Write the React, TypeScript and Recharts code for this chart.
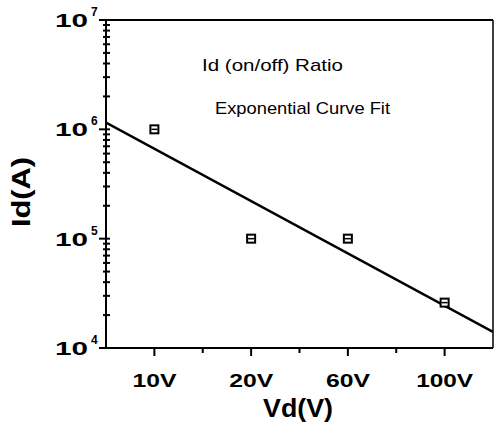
import { ComposedChart, Line, Scatter, XAxis, YAxis, ReferenceLine } from 'recharts'

// data
const categories = ['10V', '20V', '60V', '100V']
const categoryPos = [1, 2, 3, 4]
const ratioValues = [1e6, 1e5, 1e5, 2.6e4]
const fitPos = [0.5, 4.5]
const fitValues = [1.15e6, 1.4e4]
const yMajor = [1e4, 1e5, 1e6, 1e7]
const yMinorSteps = [2, 3, 4, 5, 6, 7, 8, 9]
const xMinor = [1.5, 2.5, 3.5]

const points = categoryPos.map((x, i) => ({ x, y: ratioValues[i] }))
const fit = fitPos.map((x, i) => ({ x, y: fitValues[i] }))
const yTicks = [...yMajor, ...yMajor.slice(0, 3).flatMap(d => yMinorSteps.map(s => s * d))].sort((a, b) => a - b)
const xTicks = [...categoryPos, ...xMinor].sort((a, b) => a - b)

const font = '"Liberation Sans", Arial, sans-serif'

function YTick(props: any) {
  const { x, y, payload } = props
  const v = payload.value
  const exp = Math.round(Math.log10(v))
  const major = Math.abs(v - Math.pow(10, exp)) < 1e-6 * v
  if (!major) {
    return <line x1={x - 3} x2={x + 4} y1={y} y2={y} stroke="#000" strokeWidth={2} />
  }
  return (
    <g>
      <line x1={x - 7} x2={x + 4} y1={y} y2={y} stroke="#000" strokeWidth={2} />
      <text x={55} y={y + 7} fontSize={18} fontWeight="bold" fontFamily={font} fill="#000"
        textLength={33} lengthAdjust="spacingAndGlyphs">10</text>
      <text x={91} y={y - 4} fontSize={12} fontWeight="bold" fontFamily={font} fill="#000">{exp}</text>
    </g>
  )
}

function XTick(props: any) {
  const { x, y, payload } = props
  const i = categoryPos.indexOf(payload.value)
  if (i < 0) {
    return <line x1={x} x2={x} y1={y - 1} y2={y + 5} stroke="#000" strokeWidth={2} />
  }
  const label = categories[i]
  return (
    <g>
      <line x1={x} x2={x} y1={y - 1} y2={y + 8} stroke="#000" strokeWidth={2} />
      <text x={x} y={y + 39} textAnchor="middle" fontSize={19} fontWeight="bold" fontFamily={font} fill="#000"
        textLength={44 + (label.length - 3) * 13} lengthAdjust="spacingAndGlyphs">{label}</text>
    </g>
  )
}

function Marker(props: any) {
  const { cx, cy } = props
  if (cx == null || cy == null) return null
  return (
    <g>
      <rect x={cx - 4} y={cy - 4} width={8} height={8} fill="#fff" stroke="#000" strokeWidth={2} />
      <line x1={cx - 3} x2={cx + 3} y1={cy} y2={cy} stroke="#000" strokeWidth={1.5} />
    </g>
  )
}

export default function App() {
  return (
    <div style={{ position: 'absolute', left: 0, top: 0, width: 495, height: 431, background: '#fff' }}>
      <ComposedChart width={495} height={431} margin={{ top: 20, right: 2, bottom: 0, left: 0 }}>
        <XAxis type="number" dataKey="x" domain={[0.5, 4.5]} ticks={xTicks} interval={0} allowDataOverflow
          axisLine={{ stroke: '#000', strokeWidth: 2 }} tickLine={false} tickSize={0} tickMargin={0}
          height={83} tick={<XTick />} />
        <YAxis type="number" scale="log" domain={[1e4, 1e7]} ticks={yTicks} interval={0} allowDataOverflow
          axisLine={{ stroke: '#000', strokeWidth: 2 }} tickLine={false} tickSize={0} tickMargin={0}
          width={106} tick={<YTick />} />
        <ReferenceLine y={1e7} stroke="#000" strokeWidth={2} />
        <ReferenceLine x={4.5} stroke="#000" strokeWidth={1.5} />
        <Line data={fit} dataKey="y" type="linear" stroke="#000" strokeWidth={2.5} dot={false}
          isAnimationActive={false} />
        <Scatter data={points} dataKey="y" shape={(p: any) => <Marker {...p} />} isAnimationActive={false} />
      </ComposedChart>
      <svg width={495} height={431} style={{ position: 'absolute', left: 0, top: 0, pointerEvents: 'none' }}>
        <text x={202} y={71} fontSize={17} fontFamily={font} fill="#000" textLength={141}
          lengthAdjust="spacingAndGlyphs">Id (on/off) Ratio</text>
        <text x={215} y={114} fontSize={17} fontFamily={font} fill="#000" textLength={175}
          lengthAdjust="spacingAndGlyphs">Exponential Curve Fit</text>
        <text x={298} y={417} textAnchor="middle" fontSize={26} fontWeight="bold" fontFamily={font} fill="#000"
          textLength={70} lengthAdjust="spacingAndGlyphs">Vd(V)</text>
        <text transform="translate(30,192) rotate(-90)" textAnchor="middle" fontSize={26} fontWeight="bold"
          fontFamily={font} fill="#000" textLength={70} lengthAdjust="spacingAndGlyphs">Id(A)</text>
      </svg>
    </div>
  )
}
